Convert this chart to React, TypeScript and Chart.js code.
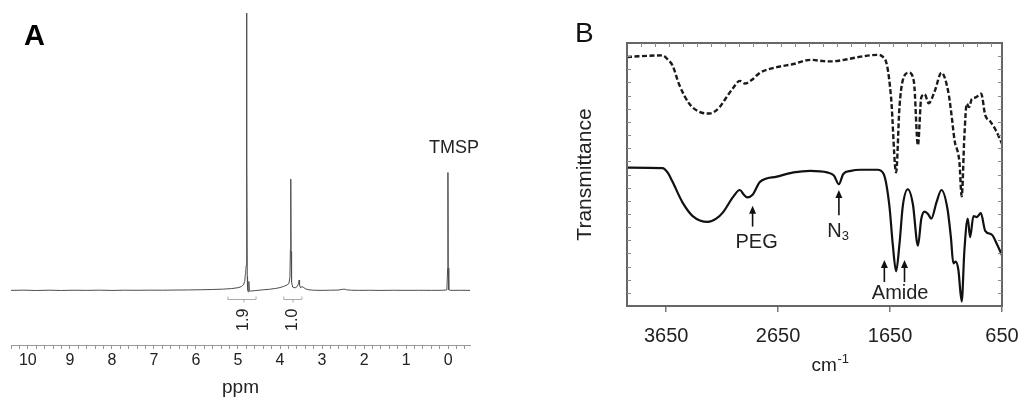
import React, { useEffect, useRef } from 'react';
import { Chart, registerables } from 'chart.js';

Chart.register(...registerables);

const FONT = '"Liberation Sans", Arial, Helvetica, sans-serif';

// ---------------- Panel A : 1H NMR ----------------
const nmrPpm = [
  10.4, 10.1, 9.8, 9.5, 9.2, 8.9, 8.6, 8.3, 8.0, 7.7, 7.4, 7.1, 6.8, 6.5, 6.2, 5.9, 5.6, 5.35, 5.15, 5.0,
  4.92, 4.87, 4.84, 4.825, 4.815, 4.805, 4.798, 4.792, 4.786, 4.779, 4.772, 4.76, 4.745, 4.738, 4.73, 4.7,
  4.6, 4.5, 4.4, 4.25, 4.1, 4.0, 3.92, 3.85, 3.79, 3.765, 3.752, 3.744, 3.736, 3.725, 3.7, 3.64, 3.59,
  3.555, 3.545, 3.535, 3.51, 3.48, 3.45, 3.4, 3.33, 3.2, 3.0, 2.8, 2.62, 2.52, 2.47, 2.42, 2.3, 2.1, 1.9,
  1.6, 1.3, 1.0, 0.7, 0.4, 0.15, 0.03, 0.012, 0.005, -0.002, -0.015, -0.06, -0.3, -0.52,
];
const nmrIntensity = [
  0.0, 0.08, -0.05, 0.06, -0.04, 0.05, 0.0, 0.07, -0.03, 0.06, 0.02, 0.08, 0.05, 0.12, 0.15, 0.22, 0.32, 0.45, 0.65, 0.95,
  1.35, 2.0, 3.2, 5.8, 7.0, 9.0, 40, 100, 45, 5, 0.4, -0.5, -0.4, 3.2, -0.2, -0.25,
  -0.1, 0.05, 0.2, 0.4, 0.7, 1.0, 1.4, 1.8, 2.4, 4.5, 15, 40.1, 14, 3.0, 1.2, 0.9, 1.4,
  2.6, 3.7, 2.0, 0.9, 1.3, 1.2, 0.6, 0.25, 0.05, 0.0, 0.06, 0.1, 0.35, 0.45, 0.2, 0.05, 0.0, 0.04,
  -0.02, 0.04, 0.0, 0.03, 0.0, 0.03, 0.15, 8, 42.5, 8, 0.2, 0.0, 0.03, 0.0,
];
const nmrMajorTicks = [10, 9, 8, 7, 6, 5, 4, 3, 2, 1, 0];
const nmrMinorStep = 0.2;
const nmrAxisMin = -0.52;
const nmrAxisMax = 10.4;

const integralFrom = [5.24, 3.91];
const integralTo = [4.57, 3.48];
const integralMid = [4.86, 3.69];
const integralLabels = ['1.9', '1.0'];
const integralBracketLevel = -3.2;
const integralLabelLevel = -10.6;
const tmspLabelPpm = -0.14;
const tmspLabelLevel = 49.5;

// ---------------- Panel B : IR ----------------
const irTickValues = [3650, 2650, 1650, 650];
const irTopMinorStep = 125;
const irYMinorStep = 5;

const dashedWavenumber = [
  4000, 3683, 3638, 3593, 3533, 3443, 3353, 3263, 3173, 3113, 3052, 2992, 2947, 2887, 2812, 2662, 2512,
  2362, 2242, 2182, 2061, 1911, 1761, 1716, 1677, 1641, 1596, 1566, 1536, 1482, 1437, 1401, 1371, 1341,
  1305, 1251, 1191, 1131, 1106, 1071, 1046, 1031, 1010, 986, 965, 944, 920, 884, 836, 800, 755, 710, 650,
];
const dashedTransmittance = [
  94.7, 95.3, 93.8, 91.4, 84.1, 76.9, 73.8, 73.2, 75.6, 79.3, 82.9, 85.6, 84.6, 85.9, 88.7, 90.8, 92.0,
  93.6, 93.1, 93.0, 93.6, 94.8, 95.5, 94.8, 91.4, 79.3, 50.8, 75.6, 85.9, 88.7, 85.3, 61.1, 79.3, 80.5,
  77.1, 81.7, 88.7, 81.7, 74.4, 62.3, 58.7, 55.0, 41.7, 64.7, 76.9, 75.6, 78.7, 79.3, 80.7, 72.6, 70.2, 67.2, 61.7,
];

const solidWavenumber = [
  4000, 3683, 3638, 3593, 3503, 3413, 3278, 3203, 3143, 3052, 2992, 2956, 2926, 2878, 2812, 2662, 2512,
  2362, 2212, 2152, 2107, 2068, 2001, 1911, 1761, 1707, 1656, 1626, 1596, 1566, 1536, 1491, 1446, 1401,
  1371, 1341, 1311, 1281, 1236, 1191, 1137, 1106, 1085, 1064, 1040, 1010, 986, 956, 935, 905, 875, 839,
  800, 740, 695, 650,
];
const solidTransmittance = [
  52.6, 52.4, 50.8, 47.2, 39.3, 34.2, 32.0, 33.2, 35.6, 41.5, 44.1, 42.3, 41.3, 42.3, 47.2, 49.2, 50.8,
  51.4, 50.8, 49.6, 46.3, 50.2, 51.4, 51.8, 51.8, 50.2, 38.1, 23.5, 13.2, 23.5, 38.1, 44.4, 38.7, 22.9,
  33.2, 35.9, 35.0, 33.2, 39.3, 44.1, 36.9, 25.9, 16.2, 16.9, 13.8, 1.7, 21.1, 33.2, 26.2, 34.2, 33.8, 35.3,
  28.6, 27.1, 23.5, 19.3,
];

// annotation anchors (data units)
const pegArrow = { wn: 2878, tip: 38.1, tail: 30.2, labelWn: 2842, labelBase: 22.2 };
const n3Arrow = { wn: 2107, tip: 44.1, tail: 34.5, labelWn: 2114, labelBase: 26.2 };
const amideArrowWn = [1701, 1521];
const amideArrow = { tip: 17.5, tail: 9.1, labelWn: 1560, labelBase: 2.5 };
const unitLabelWn = 2186;

const nmrOverlay = {
  id: 'nmrOverlay',
  afterDatasetsDraw(chart: any) {
    const { ctx } = chart;
    const xs = chart.scales.x;
    const ys = chart.scales.y;
    ctx.save();
    ctx.fillStyle = '#000';
    ctx.font = `bold 29px ${FONT}`;
    ctx.textAlign = 'left';
    ctx.textBaseline = 'alphabetic';
    ctx.fillText('A', 24, 45);

    ctx.font = `18px ${FONT}`;
    ctx.fillStyle = '#222';
    ctx.textAlign = 'center';
    ctx.fillText('TMSP', xs.getPixelForValue(tmspLabelPpm), ys.getPixelForValue(tmspLabelLevel));

    ctx.strokeStyle = '#aaa';
    ctx.lineWidth = 1;
    integralFrom.forEach((from, i) => {
      const x1 = xs.getPixelForValue(from);
      const x2 = xs.getPixelForValue(integralTo[i]);
      const xm = xs.getPixelForValue(integralMid[i]);
      const yb = Math.round(ys.getPixelForValue(integralBracketLevel)) + 0.5;
      ctx.beginPath();
      ctx.moveTo(x1, yb - 3);
      ctx.lineTo(x1, yb);
      ctx.lineTo(x2, yb);
      ctx.lineTo(x2, yb - 3);
      ctx.moveTo(xm, yb);
      ctx.lineTo(xm, yb + 3);
      ctx.stroke();
      ctx.save();
      ctx.translate(xm, ys.getPixelForValue(integralLabelLevel));
      ctx.rotate(-Math.PI / 2);
      ctx.textAlign = 'center';
      ctx.textBaseline = 'middle';
      ctx.font = `16px ${FONT}`;
      ctx.fillStyle = '#222';
      ctx.fillText(integralLabels[i], 0, 0);
      ctx.restore();
    });
    ctx.restore();
  },
};

function drawArrow(ctx: CanvasRenderingContext2D, x: number, yTail: number, yTip: number) {
  ctx.beginPath();
  ctx.moveTo(x, yTail);
  ctx.lineTo(x, yTip + 5);
  ctx.stroke();
  ctx.beginPath();
  ctx.moveTo(x, yTip);
  ctx.lineTo(x - 3.5, yTip + 8);
  ctx.lineTo(x + 3.5, yTip + 8);
  ctx.closePath();
  ctx.fill();
}

const irOverlay = {
  id: 'irOverlay',
  afterDatasetsDraw(chart: any) {
    const { ctx, chartArea: a } = chart;
    const xs = chart.scales.x;
    const ys = chart.scales.y;
    ctx.save();
    // frame
    ctx.strokeStyle = '#666';
    ctx.lineWidth = 2;
    ctx.strokeRect(a.left, a.top, a.right - a.left, a.bottom - a.top);
    // inward minor ticks
    ctx.lineWidth = 1;
    ctx.strokeStyle = '#888';
    ctx.beginPath();
    ys.ticks.forEach((t: any) => {
      if (t.value <= ys.min || t.value >= ys.max) return;
      const py = Math.round(ys.getPixelForValue(t.value)) + 0.5;
      ctx.moveTo(a.left, py);
      ctx.lineTo(a.left + 4, py);
      ctx.moveTo(a.right, py);
      ctx.lineTo(a.right - 4, py);
    });
    for (let v = xs.max - irTopMinorStep; v > xs.min; v -= irTopMinorStep) {
      const px = Math.round(xs.getPixelForValue(v)) + 0.5;
      ctx.moveTo(px, a.top);
      ctx.lineTo(px, a.top + 4);
    }
    ctx.stroke();

    // panel letter
    ctx.fillStyle = '#111';
    ctx.font = `28px ${FONT}`;
    ctx.textAlign = 'left';
    ctx.textBaseline = 'alphabetic';
    ctx.fillText('B', 55, 42);

    // arrows
    ctx.strokeStyle = '#111';
    ctx.fillStyle = '#111';
    ctx.lineWidth = 1.6;
    drawArrow(ctx, xs.getPixelForValue(pegArrow.wn), ys.getPixelForValue(pegArrow.tail), ys.getPixelForValue(pegArrow.tip));
    drawArrow(ctx, xs.getPixelForValue(n3Arrow.wn), ys.getPixelForValue(n3Arrow.tail), ys.getPixelForValue(n3Arrow.tip));
    amideArrowWn.forEach((w) =>
      drawArrow(ctx, xs.getPixelForValue(w), ys.getPixelForValue(amideArrow.tail), ys.getPixelForValue(amideArrow.tip))
    );

    // labels
    ctx.fillStyle = '#222';
    ctx.font = `20px ${FONT}`;
    ctx.textAlign = 'center';
    ctx.fillText('PEG', xs.getPixelForValue(pegArrow.labelWn), ys.getPixelForValue(pegArrow.labelBase));
    ctx.fillText('Amide', xs.getPixelForValue(amideArrow.labelWn), ys.getPixelForValue(amideArrow.labelBase));

    // N3 with subscript
    ctx.textAlign = 'left';
    ctx.font = `20px ${FONT}`;
    const wN = ctx.measureText('N').width;
    ctx.font = `13px ${FONT}`;
    const w3 = ctx.measureText('3').width;
    const nLeft = xs.getPixelForValue(n3Arrow.labelWn) - (wN + w3) / 2;
    const nBase = ys.getPixelForValue(n3Arrow.labelBase);
    ctx.font = `20px ${FONT}`;
    ctx.fillText('N', nLeft, nBase);
    ctx.font = `13px ${FONT}`;
    ctx.fillText('3', nLeft + wN, nBase + 3);

    // unit label cm-1
    ctx.font = `19px ${FONT}`;
    const wcm = ctx.measureText('cm').width;
    ctx.font = `13px ${FONT}`;
    const wsup = ctx.measureText('-1').width;
    const uLeft = xs.getPixelForValue(unitLabelWn) - (wcm + wsup) / 2;
    const uBase = a.bottom + 65;
    ctx.font = `19px ${FONT}`;
    ctx.fillText('cm', uLeft, uBase);
    ctx.font = `13px ${FONT}`;
    ctx.fillText('-1', uLeft + wcm + 0.5, uBase - 8);
    ctx.restore();
  },
};

export default function App() {
  const refA = useRef<HTMLCanvasElement>(null);
  const refB = useRef<HTMLCanvasElement>(null);

  useEffect(() => {
    const nmr = new Chart(refA.current as HTMLCanvasElement, {
      type: 'line',
      data: {
        datasets: [
          {
            data: nmrPpm.map((x, i) => ({ x, y: nmrIntensity[i] })),
            borderColor: '#4d4d4d',
            borderWidth: 1,
            pointRadius: 0,
            tension: 0,
          },
        ],
      },
      options: {
        animation: false,
        responsive: false,
        devicePixelRatio: 1,
        layout: { padding: { left: 11, right: 50, top: 0, bottom: 2 } },
        plugins: { legend: { display: false }, tooltip: { enabled: false } },
        scales: {
          x: {
            type: 'linear',
            reverse: true,
            min: nmrAxisMin,
            max: nmrAxisMax,
            afterBuildTicks: (scale: any) => {
              const ticks: any[] = [];
              const first = Math.ceil(nmrAxisMin / nmrMinorStep - 1e-9);
              const last = Math.floor(nmrAxisMax / nmrMinorStep + 1e-9);
              for (let k = first; k <= last; k++) ticks.push({ value: +(k * nmrMinorStep).toFixed(2) });
              scale.ticks = ticks;
            },
            ticks: {
              autoSkip: false,
              maxRotation: 0,
              minRotation: 0,
              padding: 2,
              color: '#222',
              font: { family: FONT, size: 16 },
              callback: (v: any) => {
                const r = Math.round(Number(v) * 100) / 100;
                return nmrMajorTicks.includes(r) ? String(r) : '';
              },
            },
            grid: { drawOnChartArea: false, drawTicks: true, tickLength: 4, color: '#999' },
            border: { display: true, color: '#999', width: 1 },
            title: {
              display: true,
              text: 'ppm',
              color: '#222',
              font: { family: FONT, size: 19 },
              padding: { top: 4, bottom: 0 },
            },
          },
          y: { display: false, min: -19.7, max: 104.7 },
        },
      } as any,
      plugins: [nmrOverlay],
    });

    const ir = new Chart(refB.current as HTMLCanvasElement, {
      type: 'line',
      data: {
        datasets: [
          {
            data: dashedWavenumber.map((x, i) => ({ x, y: dashedTransmittance[i] })),
            borderColor: '#1a1a1a',
            borderWidth: 2.4,
            borderDash: [5, 2.5],
            pointRadius: 0,
            cubicInterpolationMode: 'monotone',
          },
          {
            data: solidWavenumber.map((x, i) => ({ x, y: solidTransmittance[i] })),
            borderColor: '#111',
            borderWidth: 2.2,
            pointRadius: 0,
            cubicInterpolationMode: 'monotone',
          },
        ],
      },
      options: {
        animation: false,
        responsive: false,
        devicePixelRatio: 1,
        layout: { padding: { left: 48.4, right: 19, top: 43, bottom: 41 } },
        plugins: { legend: { display: false }, tooltip: { enabled: false } },
        scales: {
          x: {
            type: 'linear',
            reverse: true,
            min: 650,
            max: 4000,
            afterBuildTicks: (scale: any) => {
              scale.ticks = [...irTickValues].sort((p, q) => p - q).map((value) => ({ value }));
            },
            ticks: {
              autoSkip: false,
              maxRotation: 0,
              minRotation: 0,
              padding: 12,
              color: '#222',
              font: { family: FONT, size: 20 },
              callback: (v: any) => String(v),
            },
            grid: { drawOnChartArea: false, drawTicks: true, tickLength: 6, color: '#777', lineWidth: 1.5 },
            border: { display: false },
          },
          y: {
            min: 0,
            max: 100,
            ticks: { display: false, stepSize: irYMinorStep },
            grid: { display: false, drawTicks: false },
            border: { display: false },
            title: {
              display: true,
              text: 'Transmittance',
              color: '#222',
              font: { family: FONT, size: 21 },
              padding: { top: 4, bottom: 29.4 },
            },
          },
        },
      } as any,
      plugins: [irOverlay],
    });

    return () => {
      nmr.destroy();
      ir.destroy();
    };
  }, []);

  return (
    <div style={{ position: 'absolute', left: 0, top: 0, width: 1021, height: 401, background: '#fff' }}>
      <canvas
        ref={refA}
        width={520}
        height={401}
        style={{ position: 'absolute', left: 0, top: 0, width: 520, height: 401 }}
      />
      <canvas
        ref={refB}
        width={501}
        height={401}
        style={{ position: 'absolute', left: 520, top: 0, width: 501, height: 401 }}
      />
    </div>
  );
}
